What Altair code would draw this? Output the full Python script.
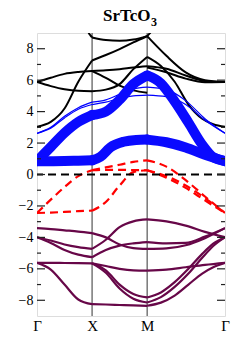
import altair as alt
import pandas as pd

# ---- k-path grids (Γ-X, X-M, M-Γ) ----
GX_K = [0.0, 0.25, 0.5, 0.75, 1.0]
XM_K = [1.0, 1.25, 1.5, 1.75, 2.0]
MG_K = [2.0, 2.35, 2.7, 3.05, 3.414]
MG_K7 = [2.0, 2.25, 2.5, 2.75, 3.0, 3.2, 3.414]
XM_K6 = [1.0, 1.15, 1.33, 1.57, 1.8, 2.0]

HS_K = [0.0, 1.0, 2.0, 3.414]
HS_LABELS = ["Γ", "X", "M", "Γ"]

Y_MAJOR = [-8, -6, -4, -2, 0, 2, 4, 6, 8]
Y_MINOR = [-7, -5, -3, -1, 1, 3, 5, 7]

TITLE_MAIN = "SrTcO"
TITLE_SUB = "3"

# ---- black bands ----
BLACK = [
    ("B1_gx", GX_K, [3.04, 3.35, 4.2, 5.9, 7.25]),
    ("A1_gx", GX_K, [5.88, 6.15, 6.4, 6.52, 6.58]),
    ("A2_gx", GX_K, [5.88, 5.62, 5.42, 5.32, 5.3]),
    ("B0_gx", [0.9, 0.93, 0.97, 1.0], [9.6, 9.1, 8.85, 8.72]),
    ("B1_xm", XM_K, [7.25, 7.6, 7.98, 8.4, 8.8]),
    ("B0_xm", XM_K, [8.72, 8.55, 8.5, 8.58, 8.8]),
    ("A1_xm", XM_K, [6.58, 6.63, 6.7, 6.8, 6.88]),
    ("A2_xm", XM_K, [5.3, 5.4, 5.75, 6.7, 7.48]),
    ("A3_xm", XM_K, [6.58, 6.15, 5.65, 5.35, 5.2]),
    ("C1_mg", MG_K, [8.8, 7.55, 6.5, 6.0, 5.88]),
    ("B0_mg", [2.0, 2.1, 2.2], [8.8, 9.2, 9.7]),
    ("A1_mg", MG_K, [6.88, 6.72, 6.3, 5.95, 5.88]),
    ("A4_mg", MG_K, [6.8, 6.5, 6.1, 5.87, 5.88]),
    ("A2_mg", MG_K7, [7.48, 6.9, 5.9, 4.45, 3.55, 3.2, 3.04]),
]

# ---- thin blue bands ----
BLUE_THIN = [
    ("T1_gx", GX_K, [2.62, 3.0, 3.7, 4.25, 4.6]),
    ("T2_gx", GX_K, [2.62, 2.95, 3.6, 4.15, 4.45]),
    ("T1_xm", XM_K, [4.6, 4.75, 5.1, 5.45, 5.56]),
    ("T2_xm", XM_K, [4.45, 4.6, 4.85, 5.0, 5.05]),
    ("T1_mg", MG_K, [5.56, 5.4, 4.7, 3.55, 2.62]),
    ("T2_mg", MG_K, [5.05, 4.95, 4.45, 3.45, 2.62]),
]

# ---- thick (fat) blue bands ----
BLUE_THICK = [
    ("U_gx", GX_K, [0.85, 1.75, 2.65, 3.35, 3.78]),
    ("U_xm", XM_K, [3.78, 4.0, 4.75, 5.75, 6.3]),
    ("U_mg", MG_K7, [6.3, 5.8, 4.65, 3.3, 1.9, 1.1, 0.85]),
    ("L_gx", GX_K, [0.85, 0.85, 0.86, 0.88, 0.9]),
    ("L_xm", XM_K6, [0.9, 1.12, 1.72, 2.08, 2.2, 2.22]),
    ("L_mg", MG_K, [2.22, 2.05, 1.72, 1.25, 0.85]),
]

# ---- red dashed bands ----
RED = [
    ("R1_gx", GX_K, [-2.45, -1.6, -0.8, -0.1, 0.27]),
    ("R2_gx", GX_K, [-2.45, -2.42, -2.38, -2.33, -2.3]),
    ("R1_xm", XM_K, [0.27, 0.45, 0.62, 0.8, 0.9]),
    ("R3_xm", XM_K, [0.27, 0.3, 0.3, 0.28, 0.27]),
    ("R2_xm", XM_K, [-2.3, -1.75, -0.7, 0.15, 0.27]),
    ("R1_mg", MG_K, [0.9, 0.5, -0.36, -1.4, -2.45]),
    ("R3_mg", MG_K, [0.27, -0.1, -0.7, -1.5, -2.45]),
    ("R2_mg", MG_K, [0.27, -0.2, -0.85, -1.65, -2.45]),
]

# ---- maroon bands ----
MAROON = [
    ("G1", GX_K, [-3.41, -3.47, -3.55, -3.63, -3.73]),
    ("G2", GX_K, [-3.99, -4.2, -4.45, -4.62, -4.73]),
    ("G3", GX_K, [-3.99, -4.35, -4.8, -5.1, -5.26]),
    ("G5", GX_K, [-5.62, -5.62, -5.63, -5.64, -5.65]),
    ("G6", GX_K, [-5.62, -6.05, -7.0, -7.95, -8.25]),
    ("H1", XM_K, [-3.73, -4.0, -4.45, -4.68, -4.73]),
    ("H2", XM_K, [-4.73, -4.15, -3.35, -2.98, -2.86]),
    ("H3", XM_K, [-5.26, -4.8, -4.52, -4.38, -4.3]),
    ("H4", XM_K, [-5.65, -5.82, -6.0, -6.1, -6.12]),
    ("H5", XM_K, [-5.65, -6.1, -7.0, -7.6, -7.82]),
    ("H6", XM_K, [-5.65, -6.25, -7.25, -7.9, -8.14]),
    ("H7", XM_K, [-8.25, -8.27, -8.3, -8.33, -8.35]),
    ("I1", MG_K, [-2.86, -2.98, -3.25, -3.65, -3.99]),
    ("I2", MG_K, [-4.3, -4.38, -4.35, -3.95, -3.41]),
    ("I3", MG_K, [-4.73, -4.7, -4.5, -4.05, -3.41]),
    ("I4", MG_K, [-6.12, -6.05, -5.9, -5.75, -5.62]),
    ("I5", MG_K7, [-7.82, -7.5, -6.85, -6.0, -5.05, -4.4, -3.99]),
    ("I6", MG_K7, [-8.14, -7.8, -7.15, -6.3, -5.3, -4.55, -3.99]),
    ("I7", MG_K7, [-8.35, -8.15, -7.7, -7.0, -6.3, -5.9, -5.62]),
]


def frame(bands):
    rows = []
    for name, ks, es in bands:
        for k, e in zip(ks, es):
            rows.append({"seg": name, "k": k, "E": e})
    return pd.DataFrame(rows)


W, H = 188, 283
SERIF = "Liberation Serif"
XSCALE = alt.Scale(domain=[HS_K[0], HS_K[-1]], nice=False, zero=False)
YSCALE = alt.Scale(domain=[-9, 9], nice=False, zero=False)

label_expr = " : ".join(
    f"datum.value < {HS_K[i] + 0.5} ? '{HS_LABELS[i]}'" for i in range(len(HS_K) - 1)
) + f" : '{HS_LABELS[-1]}'"

XAXIS = alt.Axis(values=HS_K, labelExpr=label_expr, tickSize=0, labelFont=SERIF,
                 labelFontSize=15, labelColor="black", labelPadding=2,
                 domain=False, grid=False, title=None, labelFlush=False,
                 labelOverlap=False)
YAXIS = alt.Axis(orient="left", values=Y_MAJOR, tickSize=0, labelFont=SERIF,
                 labelFontSize=14, labelColor="#000000", labelPadding=4,
                 domain=False, grid=False, title=None)

X_ENC = alt.X("k:Q", scale=XSCALE, axis=XAXIS)
Y_ENC = alt.Y("E:Q", scale=YSCALE, axis=YAXIS)


def band_layer(df, **mark):
    return alt.Chart(df).mark_line(interpolate="monotone", clip=True, **mark).encode(
        x=X_ENC, y=Y_ENC, detail="seg:N"
    )


vlines = alt.Chart(pd.DataFrame({"k": HS_K[1:3]})).mark_rule(
    color="#333", strokeWidth=1
).encode(x=X_ENC)

black = band_layer(frame(BLACK), color="black", strokeWidth=2)
thin = band_layer(frame(BLUE_THIN), color="#0000ff", strokeWidth=1.2)
thick = band_layer(frame(BLUE_THICK), color="#0a0aff", strokeWidth=10,
                   strokeCap="round", strokeJoin="round")
red = band_layer(frame(RED), color="#ff0000", strokeWidth=2.2, strokeDash=[8, 5])
maroon = band_layer(frame(MAROON), color="#670748", strokeWidth=2.2)

fermi = alt.Chart(pd.DataFrame({"E": [0]})).mark_rule(
    color="black", strokeWidth=2, strokeDash=[8, 5]
).encode(y=Y_ENC)


def ticks(values, x0, x1):
    return alt.Chart(pd.DataFrame({"E": values})).mark_rule(
        color="#222", strokeWidth=1.2
    ).encode(y=Y_ENC, x=alt.value(x0), x2=alt.value(x1))


tick_layers = [
    ticks(Y_MAJOR, 0, 8), ticks(Y_MINOR, 0, 4),
    ticks(Y_MAJOR, W - 8, W), ticks(Y_MINOR, W - 4, W),
]

title_df = pd.DataFrame({"main": [TITLE_MAIN], "sub": [TITLE_SUB]})
title_main = alt.Chart(title_df).mark_text(
    font=SERIF, fontSize=17, fontWeight="bold", color="black", align="left",
    baseline="alphabetic"
).encode(text="main:N", x=alt.value(66), y=alt.value(-12))
title_sub = alt.Chart(title_df).mark_text(
    font=SERIF, fontSize=12, fontWeight="bold", color="black", align="left",
    baseline="alphabetic"
).encode(text="sub:N", x=alt.value(114), y=alt.value(-7))

chart = alt.layer(
    vlines, black, thin, thick, red, maroon, fermi, *tick_layers, title_main, title_sub
).properties(
    width=W, height=H,
    autosize=alt.AutoSizeParams(type="none"),
    padding={"left": 29, "top": 25, "right": 17, "bottom": 29},
).configure_view(stroke="#222", strokeWidth=1.5).configure(background="white")

chart.save("out.html", embed_options={"renderer": "svg", "actions": False})
